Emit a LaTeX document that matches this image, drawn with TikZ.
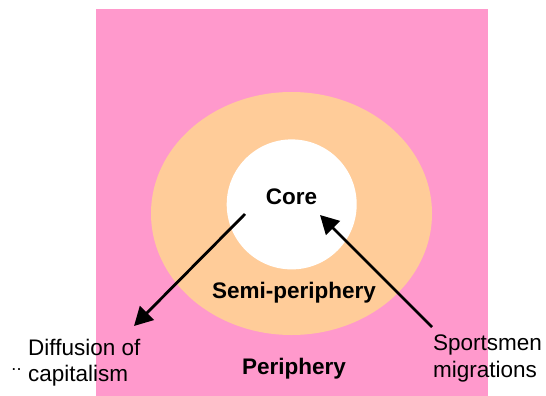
\documentclass[tikz,border=0pt]{standalone}
\usepackage{fontspec}
\setmainfont{Liberation Sans}
\usetikzlibrary{arrows.meta}
\definecolor{pinkbg}{HTML}{FF99CC}
\definecolor{peach}{HTML}{FFCC99}
\begin{document}
\begin{tikzpicture}[x=1pt,y=-1pt,
  lbl/.style={inner sep=0pt,font=\fontsize{22.5}{26.5}\selectfont},
  blbl/.style={lbl,font=\fontsize{22.5}{26.5}\selectfont\bfseries},
  arr/.style={line width=2.8pt,-{Triangle[length=18.5pt,width=19.5pt]}}]
\useasboundingbox (0,0) rectangle (546,396);
\fill[pinkbg] (96,9) rectangle (488,396);
\fill[peach] (291.5,213.5) ellipse [x radius=140.5, y radius=121.5];
\fill[white] (291.7,204.4) circle [radius=65];
\node[blbl,anchor=base] (core) at (291.5,204) {Core};
\node[blbl,anchor=base] (semi) at (294,298.5) {Semi-periphery};
\node[blbl,anchor=base] (peri) at (294,374) {Periphery};
\node[lbl,anchor=base west,align=left] (diff) at (28,381.5) {Diffusion of\\capitalism};
\node[lbl,anchor=base west,align=left] (sport) at (433,377) {Sportsmen\\migrations};
\node[inner sep=0pt,font=\fontsize{18}{18}\selectfont,anchor=base] (dots) at (16.5,370) {..};
\coordinate (a1s) at (245,214);
\coordinate (a1e) at (134,326);
\coordinate (a2s) at (432,327);
\coordinate (a2e) at (320,215);
\draw[arr] (a1s) -- (a1e);
\draw[arr] (a2s) -- (a2e);
\end{tikzpicture}
\end{document}
